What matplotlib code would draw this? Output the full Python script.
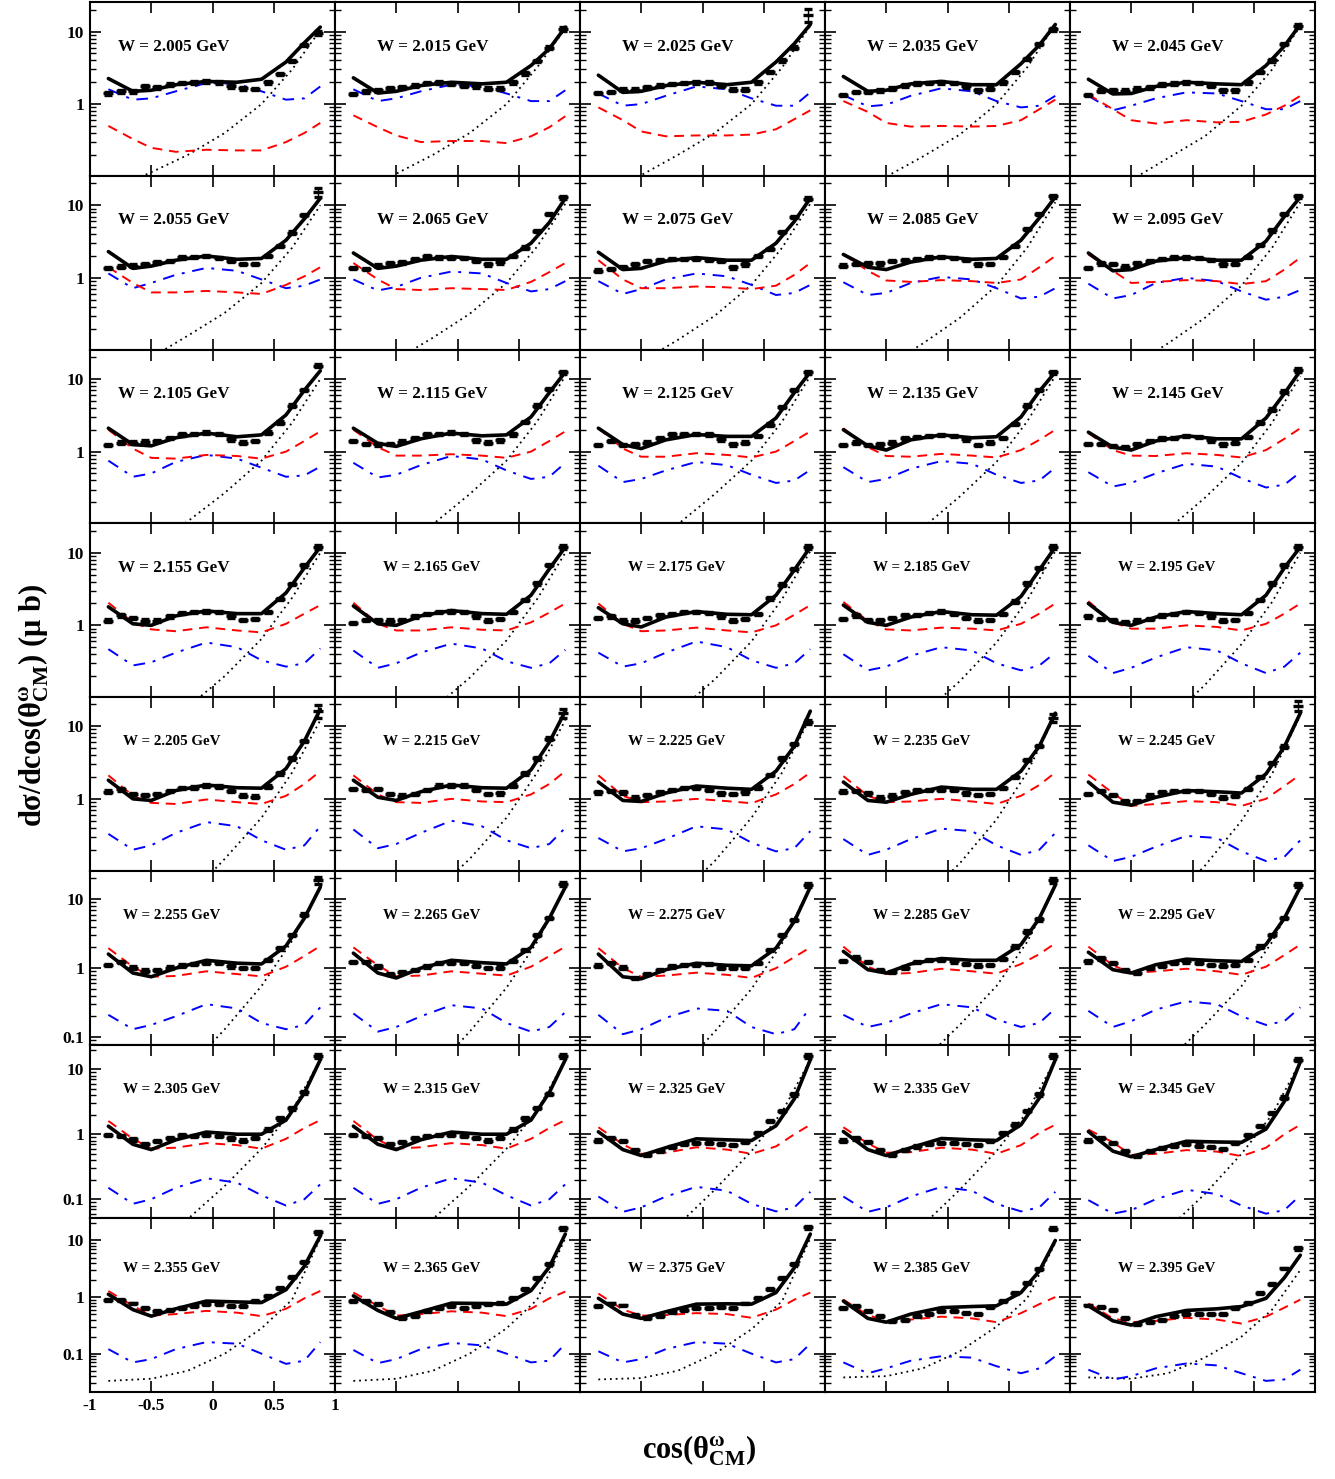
import matplotlib
matplotlib.use("Agg")
import matplotlib.pyplot as plt
from matplotlib.ticker import FixedLocator, FuncFormatter, NullFormatter, LogLocator

plt.rcParams['font.family'] = ['Liberation Serif', 'DejaVu Serif']
plt.rcParams['font.weight'] = 'bold'

# ---------------- data ----------------
W_LABELS = ["2.005", "2.015", "2.025", "2.035", "2.045",
            "2.055", "2.065", "2.075", "2.085", "2.095",
            "2.105", "2.115", "2.125", "2.135", "2.145",
            "2.155", "2.165", "2.175", "2.185", "2.195",
            "2.205", "2.215", "2.225", "2.235", "2.245",
            "2.255", "2.265", "2.275", "2.285", "2.295",
            "2.305", "2.315", "2.325", "2.335", "2.345",
            "2.355", "2.365", "2.375", "2.385", "2.395"]

CURVE_X = [-0.85, -0.65, -0.5, -0.3, -0.05, 0.2, 0.4, 0.6, 0.75, 0.88]
DOT_X = [-0.85, -0.5, -0.2, 0.1, 0.4, 0.65, 0.88]
DATA_X = [-0.85, -0.75, -0.65, -0.55, -0.45, -0.35, -0.25, -0.15, -0.05,
          0.05, 0.15, 0.25, 0.35, 0.45, 0.55, 0.65, 0.75, 0.86]

# full model (solid black)
SOLID = [
    [2.25, 1.5, 1.55, 1.85, 2.05, 2.0, 2.2, 3.8, 7.0, 11.5],
    [2.3, 1.42, 1.5, 1.8, 2.0, 1.9, 2.0, 3.4, 5.8, 11.5],
    [2.5, 1.45, 1.5, 1.8, 2.0, 1.85, 2.0, 3.8, 6.8, 12.5],
    [2.4, 1.5, 1.55, 1.9, 2.05, 1.85, 1.85, 3.6, 6.5, 12.5],
    [2.2, 1.38, 1.4, 1.75, 2.0, 1.9, 1.85, 3.4, 6.3, 12.5],
    [2.3, 1.35, 1.45, 1.75, 2.0, 1.8, 1.85, 3.3, 6.5, 12.5],
    [2.2, 1.35, 1.45, 1.75, 1.97, 1.8, 1.8, 3.0, 5.8, 12.5],
    [2.25, 1.3, 1.35, 1.7, 1.9, 1.75, 1.75, 3.0, 6.0, 12.5],
    [2.1, 1.4, 1.3, 1.65, 1.95, 1.8, 1.85, 3.3, 6.7, 13.0],
    [2.2, 1.25, 1.3, 1.7, 1.9, 1.75, 1.75, 3.2, 7.0, 13.0],
    [2.1, 1.25, 1.2, 1.55, 1.8, 1.6, 1.7, 3.2, 7.0, 13.0],
    [2.1, 1.3, 1.18, 1.5, 1.8, 1.65, 1.7, 3.0, 6.5, 12.5],
    [2.1, 1.25, 1.1, 1.45, 1.72, 1.62, 1.62, 2.9, 6.5, 12.5],
    [2.0, 1.2, 1.05, 1.45, 1.7, 1.55, 1.6, 3.0, 6.8, 12.5],
    [1.85, 1.15, 1.05, 1.4, 1.65, 1.5, 1.5, 2.9, 6.3, 13.0],
    [1.8, 1.05, 1.0, 1.35, 1.58, 1.45, 1.45, 2.8, 6.2, 12.0],
    [1.85, 1.05, 1.0, 1.35, 1.6, 1.45, 1.42, 2.6, 6.0, 12.0],
    [1.75, 1.05, 0.95, 1.3, 1.55, 1.42, 1.4, 2.6, 5.8, 12.0],
    [1.9, 1.1, 1.0, 1.3, 1.55, 1.4, 1.38, 2.5, 5.8, 12.0],
    [2.0, 1.1, 1.0, 1.3, 1.55, 1.45, 1.4, 2.6, 6.2, 12.0],
    [1.8, 1.0, 0.95, 1.3, 1.55, 1.42, 1.4, 2.6, 6.2, 17.0],
    [1.8, 1.05, 0.95, 1.25, 1.55, 1.42, 1.4, 2.5, 6.0, 16.0],
    [1.7, 0.95, 0.92, 1.2, 1.5, 1.4, 1.35, 2.4, 5.3, 16.0],
    [1.7, 0.95, 0.9, 1.15, 1.45, 1.35, 1.35, 2.4, 5.3, 15.0],
    [1.7, 0.9, 0.82, 1.05, 1.3, 1.25, 1.2, 2.2, 5.2, 15.0],
    [1.6, 0.85, 0.75, 1.0, 1.3, 1.18, 1.15, 2.1, 5.3, 15.0],
    [1.65, 0.85, 0.72, 1.0, 1.3, 1.2, 1.15, 2.0, 5.3, 15.0],
    [1.6, 0.75, 0.7, 0.95, 1.18, 1.1, 1.08, 1.95, 4.8, 15.0],
    [1.75, 0.95, 0.85, 1.15, 1.38, 1.3, 1.3, 2.2, 5.3, 16.0],
    [1.7, 0.95, 0.85, 1.12, 1.35, 1.28, 1.25, 2.2, 5.3, 15.0],
    [1.33, 0.7, 0.58, 0.82, 1.08, 1.0, 1.0, 1.65, 4.3, 14.0],
    [1.33, 0.7, 0.58, 0.82, 1.08, 1.0, 1.0, 1.65, 4.4, 14.0],
    [1.09, 0.58, 0.47, 0.62, 0.85, 0.82, 0.8, 1.35, 3.5, 14.0],
    [1.1, 0.58, 0.47, 0.62, 0.86, 0.82, 0.8, 1.4, 3.6, 14.0],
    [1.1, 0.55, 0.45, 0.58, 0.78, 0.76, 0.75, 1.2, 3.2, 13.0],
    [1.12, 0.6, 0.46, 0.62, 0.85, 0.82, 0.8, 1.35, 3.5, 12.0],
    [1.05, 0.58, 0.42, 0.55, 0.78, 0.77, 0.75, 1.3, 3.4, 13.0],
    [0.95, 0.5, 0.42, 0.55, 0.75, 0.76, 0.75, 1.2, 3.3, 13.0],
    [0.85, 0.42, 0.36, 0.5, 0.65, 0.68, 0.7, 1.2, 2.9, 10.0],
    [0.7, 0.38, 0.32, 0.45, 0.58, 0.62, 0.68, 0.95, 2.2, 5.5],
]

# red dashed contribution
RED = [
    [0.5, 0.33, 0.25, 0.22, 0.235, 0.23, 0.23, 0.3, 0.4, 0.55],
    [0.7, 0.48, 0.37, 0.3, 0.31, 0.31, 0.29, 0.36, 0.48, 0.68],
    [0.9, 0.6, 0.42, 0.36, 0.37, 0.37, 0.38, 0.45, 0.62, 0.82],
    [1.1, 0.78, 0.55, 0.49, 0.5, 0.49, 0.5, 0.6, 0.85, 1.15],
    [1.35, 0.85, 0.6, 0.54, 0.6, 0.56, 0.57, 0.72, 0.95, 1.3],
    [1.4, 0.85, 0.63, 0.63, 0.66, 0.63, 0.6, 0.8, 1.05, 1.4],
    [1.6, 0.95, 0.7, 0.68, 0.72, 0.7, 0.68, 0.88, 1.2, 1.6],
    [1.75, 0.95, 0.72, 0.72, 0.76, 0.74, 0.7, 0.78, 1.1, 1.6],
    [2.1, 1.25, 0.92, 0.88, 0.93, 0.9, 0.85, 0.95, 1.4, 2.0],
    [2.1, 1.25, 0.85, 0.88, 0.93, 0.9, 0.82, 0.9, 1.3, 1.9],
    [2.0, 1.1, 0.82, 0.8, 0.9, 0.87, 0.8, 1.0, 1.4, 1.9],
    [2.0, 1.15, 0.88, 0.88, 0.92, 0.88, 0.82, 1.0, 1.4, 1.9],
    [2.1, 1.1, 0.85, 0.85, 0.95, 0.9, 0.83, 1.0, 1.4, 1.9],
    [2.1, 1.15, 0.87, 0.85, 0.93, 0.88, 0.83, 1.05, 1.45, 2.0],
    [1.8, 1.05, 0.88, 0.87, 0.95, 0.9, 0.83, 1.05, 1.5, 2.1],
    [2.05, 1.1, 0.88, 0.83, 0.94, 0.85, 0.8, 1.05, 1.45, 1.9],
    [2.05, 1.05, 0.85, 0.85, 0.94, 0.87, 0.85, 1.1, 1.5, 2.0],
    [2.0, 1.05, 0.83, 0.85, 0.93, 0.85, 0.8, 1.0, 1.4, 1.9],
    [2.1, 1.15, 0.88, 0.85, 0.93, 0.9, 0.85, 1.05, 1.45, 2.0],
    [2.15, 1.1, 0.9, 0.9, 1.0, 0.95, 0.85, 1.05, 1.45, 2.0],
    [2.1, 1.1, 0.88, 0.85, 0.98, 0.9, 0.85, 1.1, 1.6, 2.4],
    [2.1, 1.15, 0.9, 0.88, 1.0, 0.92, 0.9, 1.15, 1.6, 2.4],
    [2.1, 1.1, 0.9, 0.92, 1.0, 0.93, 0.87, 1.15, 1.6, 2.3],
    [2.05, 1.1, 0.9, 0.92, 1.0, 0.92, 0.85, 1.1, 1.55, 2.3],
    [2.15, 1.2, 0.8, 0.85, 0.93, 0.9, 0.8, 1.0, 1.5, 2.15],
    [1.95, 1.05, 0.75, 0.77, 0.9, 0.82, 0.76, 1.05, 1.5, 2.1],
    [2.0, 1.1, 0.76, 0.78, 0.9, 0.83, 0.78, 1.05, 1.5, 2.05],
    [1.95, 1.0, 0.75, 0.78, 0.86, 0.8, 0.72, 1.0, 1.45, 2.0],
    [2.05, 1.05, 0.82, 0.85, 0.98, 0.9, 0.83, 1.15, 1.6, 2.3],
    [2.05, 1.1, 0.85, 0.9, 0.98, 0.9, 0.8, 1.05, 1.55, 2.2],
    [1.6, 0.85, 0.6, 0.62, 0.73, 0.68, 0.6, 0.85, 1.25, 1.65],
    [1.6, 0.82, 0.6, 0.63, 0.73, 0.68, 0.6, 0.85, 1.25, 1.65],
    [1.28, 0.7, 0.5, 0.52, 0.63, 0.58, 0.5, 0.65, 1.0, 1.4],
    [1.28, 0.72, 0.52, 0.53, 0.62, 0.58, 0.5, 0.68, 1.05, 1.4],
    [1.18, 0.75, 0.48, 0.5, 0.57, 0.54, 0.46, 0.62, 1.0, 1.4],
    [1.28, 0.7, 0.47, 0.5, 0.57, 0.53, 0.46, 0.62, 0.95, 1.28],
    [1.2, 0.7, 0.47, 0.5, 0.56, 0.53, 0.46, 0.62, 0.95, 1.25],
    [1.15, 0.6, 0.47, 0.48, 0.52, 0.5, 0.43, 0.6, 0.9, 1.2],
    [0.9, 0.48, 0.38, 0.4, 0.45, 0.42, 0.36, 0.52, 0.75, 1.0],
    [0.77, 0.42, 0.36, 0.38, 0.43, 0.4, 0.34, 0.45, 0.65, 0.9],
]

# blue dash-dotted contribution
BLUE = [
    [1.6, 1.15, 1.2, 1.5, 1.95, 1.9, 1.5, 1.15, 1.2, 1.75],
    [1.6, 1.1, 1.2, 1.5, 1.85, 1.75, 1.4, 1.1, 1.1, 1.55],
    [1.4, 0.95, 1.0, 1.3, 1.75, 1.6, 1.2, 0.95, 0.95, 1.45],
    [1.33, 0.93, 0.98, 1.3, 1.65, 1.5, 1.1, 0.9, 0.95, 1.3],
    [1.3, 0.82, 0.95, 1.2, 1.45, 1.4, 1.1, 0.85, 0.85, 1.1],
    [1.15, 0.72, 0.85, 1.1, 1.37, 1.25, 0.95, 0.72, 0.78, 0.95],
    [0.95, 0.67, 0.75, 1.0, 1.22, 1.15, 0.85, 0.65, 0.7, 0.9],
    [0.9, 0.6, 0.7, 0.95, 1.15, 1.05, 0.8, 0.58, 0.62, 0.8],
    [0.87, 0.58, 0.62, 0.85, 1.03, 0.95, 0.72, 0.52, 0.55, 0.72],
    [0.83, 0.52, 0.58, 0.85, 1.0, 0.9, 0.65, 0.5, 0.55, 0.68],
    [0.75, 0.45, 0.5, 0.72, 0.9, 0.8, 0.6, 0.45, 0.47, 0.62],
    [0.7, 0.44, 0.48, 0.65, 0.87, 0.78, 0.55, 0.42, 0.45, 0.7],
    [0.64, 0.38, 0.42, 0.55, 0.72, 0.65, 0.48, 0.37, 0.4, 0.56],
    [0.61, 0.38, 0.42, 0.58, 0.74, 0.68, 0.48, 0.37, 0.4, 0.6],
    [0.52, 0.33, 0.37, 0.5, 0.68, 0.62, 0.43, 0.32, 0.35, 0.52],
    [0.47, 0.28, 0.31, 0.42, 0.58, 0.5, 0.33, 0.27, 0.3, 0.48],
    [0.45, 0.26, 0.3, 0.42, 0.56, 0.48, 0.32, 0.26, 0.3, 0.46],
    [0.42, 0.27, 0.3, 0.42, 0.6, 0.5, 0.33, 0.26, 0.3, 0.47],
    [0.4, 0.24, 0.27, 0.38, 0.5, 0.45, 0.3, 0.24, 0.28, 0.42],
    [0.38, 0.22, 0.26, 0.36, 0.5, 0.45, 0.3, 0.22, 0.27, 0.42],
    [0.33, 0.2, 0.23, 0.34, 0.48, 0.42, 0.27, 0.2, 0.23, 0.42],
    [0.38, 0.21, 0.24, 0.34, 0.5, 0.42, 0.27, 0.21, 0.24, 0.4],
    [0.29, 0.19, 0.21, 0.28, 0.42, 0.38, 0.25, 0.19, 0.21, 0.36],
    [0.28, 0.17, 0.2, 0.28, 0.39, 0.36, 0.23, 0.17, 0.2, 0.34],
    [0.23, 0.14, 0.16, 0.22, 0.31, 0.29, 0.19, 0.14, 0.16, 0.27],
    [0.21, 0.13, 0.15, 0.2, 0.3, 0.26, 0.16, 0.13, 0.15, 0.27],
    [0.22, 0.12, 0.14, 0.2, 0.29, 0.26, 0.16, 0.12, 0.14, 0.23],
    [0.21, 0.11, 0.13, 0.19, 0.26, 0.24, 0.14, 0.11, 0.13, 0.27],
    [0.21, 0.14, 0.16, 0.22, 0.3, 0.27, 0.18, 0.14, 0.16, 0.26],
    [0.24, 0.14, 0.17, 0.25, 0.33, 0.3, 0.2, 0.15, 0.17, 0.27],
    [0.15, 0.085, 0.1, 0.15, 0.21, 0.18, 0.115, 0.08, 0.1, 0.17],
    [0.15, 0.085, 0.1, 0.15, 0.21, 0.18, 0.115, 0.08, 0.1, 0.17],
    [0.11, 0.064, 0.075, 0.11, 0.155, 0.135, 0.085, 0.065, 0.075, 0.13],
    [0.11, 0.064, 0.075, 0.11, 0.155, 0.135, 0.085, 0.065, 0.075, 0.13],
    [0.097, 0.06, 0.068, 0.1, 0.14, 0.12, 0.08, 0.06, 0.068, 0.115],
    [0.12, 0.07, 0.08, 0.12, 0.16, 0.15, 0.1, 0.066, 0.075, 0.16],
    [0.116, 0.068, 0.08, 0.12, 0.155, 0.14, 0.1, 0.07, 0.075, 0.15],
    [0.11, 0.07, 0.08, 0.12, 0.16, 0.15, 0.1, 0.07, 0.08, 0.15],
    [0.07, 0.045, 0.055, 0.075, 0.09, 0.085, 0.06, 0.045, 0.055, 0.09],
    [0.052, 0.035, 0.04, 0.055, 0.067, 0.062, 0.045, 0.033, 0.035, 0.052],
]

# black dotted contribution
DOTTED = [
    [0.065, 0.115, 0.2, 0.4, 1.0, 3.0, 10.5],
    [0.045, 0.11, 0.2, 0.4, 1.0, 3.2, 11.0],
    [0.045, 0.105, 0.2, 0.4, 1.0, 3.2, 12.0],
    [0.04, 0.1, 0.19, 0.38, 1.0, 3.2, 12.5],
    [0.035, 0.09, 0.18, 0.36, 0.95, 3.0, 12.0],
    [0.03, 0.08, 0.16, 0.33, 0.85, 2.6, 10.0],
    [0.03, 0.075, 0.15, 0.32, 0.85, 2.7, 10.5],
    [0.03, 0.07, 0.14, 0.3, 0.8, 2.6, 10.5],
    [0.025, 0.06, 0.125, 0.28, 0.78, 2.6, 11.0],
    [0.025, 0.06, 0.125, 0.28, 0.78, 2.6, 11.0],
    [0.02, 0.05, 0.11, 0.27, 0.75, 2.5, 10.0],
    [0.02, 0.045, 0.1, 0.26, 0.75, 2.6, 11.0],
    [0.02, 0.045, 0.1, 0.26, 0.75, 2.6, 11.0],
    [0.015, 0.04, 0.09, 0.24, 0.72, 2.6, 11.0],
    [0.015, 0.035, 0.085, 0.23, 0.7, 2.5, 11.0],
    [0.012, 0.03, 0.075, 0.2, 0.65, 2.4, 10.0],
    [0.012, 0.028, 0.07, 0.19, 0.62, 2.3, 10.0],
    [0.01, 0.025, 0.065, 0.18, 0.6, 2.3, 10.5],
    [0.01, 0.024, 0.06, 0.17, 0.58, 2.2, 10.5],
    [0.008, 0.02, 0.05, 0.15, 0.55, 2.1, 10.0],
    [0.007, 0.018, 0.045, 0.15, 0.55, 2.3, 12.0],
    [0.008, 0.02, 0.05, 0.15, 0.55, 2.3, 12.0],
    [0.007, 0.018, 0.045, 0.14, 0.55, 2.3, 13.0],
    [0.007, 0.017, 0.042, 0.13, 0.52, 2.3, 14.0],
    [0.006, 0.015, 0.038, 0.12, 0.5, 2.2, 14.0],
    [0.004, 0.012, 0.035, 0.13, 0.55, 2.5, 15.0],
    [0.004, 0.011, 0.032, 0.12, 0.52, 2.4, 15.0],
    [0.004, 0.011, 0.032, 0.12, 0.5, 2.3, 15.0],
    [0.005, 0.014, 0.045, 0.15, 0.55, 2.4, 15.0],
    [0.005, 0.014, 0.045, 0.15, 0.55, 2.4, 15.0],
    [0.004, 0.015, 0.05, 0.16, 0.6, 2.3, 14.0],
    [0.004, 0.015, 0.05, 0.16, 0.6, 2.3, 14.0],
    [0.004, 0.012, 0.04, 0.14, 0.55, 2.2, 14.0],
    [0.004, 0.012, 0.04, 0.14, 0.55, 2.2, 14.0],
    [0.003, 0.01, 0.035, 0.12, 0.5, 2.0, 13.0],
    [0.033, 0.036, 0.05, 0.1, 0.28, 0.9, 11.0],
    [0.033, 0.036, 0.05, 0.1, 0.28, 0.9, 11.0],
    [0.035, 0.037, 0.05, 0.1, 0.27, 0.85, 11.0],
    [0.038, 0.04, 0.055, 0.11, 0.3, 0.95, 9.0],
    [0.038, 0.036, 0.045, 0.085, 0.2, 0.6, 3.0],
]

# measured cross sections (18 angular bins)
DATA = [
    [1.4, 1.5, 1.5, 1.75, 1.7, 1.85, 1.95, 2.0, 2.05, 2.0, 1.75, 1.65, 1.62, 2.0, 2.6, 3.9, 6.5, 9.6],
    [1.37, 1.5, 1.55, 1.65, 1.7, 1.8, 1.95, 2.0, 1.9, 1.8, 1.75, 1.63, 1.63, 2.0, 2.65, 3.9, 6.0, 10.8],
    [1.42, 1.47, 1.58, 1.58, 1.7, 1.8, 1.9, 1.95, 2.0, 2.0, 1.8, 1.58, 1.58, 2.0, 2.75, 4.0, 6.0, 17.0],
    [1.33, 1.47, 1.47, 1.55, 1.64, 1.82, 1.91, 1.95, 2.0, 1.95, 1.75, 1.55, 1.64, 2.0, 2.75, 4.2, 6.7, 10.7],
    [1.33, 1.53, 1.55, 1.53, 1.64, 1.7, 1.87, 1.91, 2.0, 1.95, 1.8, 1.55, 1.55, 2.0, 2.75, 4.0, 6.7, 12.0],
    [1.37, 1.43, 1.47, 1.55, 1.64, 1.72, 1.91, 1.95, 2.0, 1.87, 1.7, 1.55, 1.55, 2.0, 2.75, 4.2, 7.3, 15.2],
    [1.37, 1.33, 1.47, 1.58, 1.64, 1.82, 2.0, 1.91, 1.87, 1.87, 1.7, 1.53, 1.64, 2.0, 2.6, 4.4, 7.6, 12.8],
    [1.26, 1.33, 1.42, 1.53, 1.7, 1.76, 1.82, 1.82, 1.82, 1.76, 1.7, 1.4, 1.53, 2.0, 2.5, 4.3, 6.9, 12.3],
    [1.47, 1.55, 1.58, 1.58, 1.7, 1.76, 1.82, 1.91, 1.95, 1.87, 1.76, 1.53, 1.55, 1.95, 2.75, 4.7, 7.6, 13.3],
    [1.37, 1.58, 1.55, 1.43, 1.58, 1.72, 1.82, 1.91, 1.91, 1.87, 1.76, 1.53, 1.55, 1.95, 2.85, 4.5, 7.6, 13.3],
    [1.23, 1.33, 1.33, 1.37, 1.4, 1.53, 1.72, 1.76, 1.82, 1.76, 1.47, 1.33, 1.4, 1.82, 2.5, 4.3, 7.1, 15.2],
    [1.4, 1.28, 1.26, 1.28, 1.37, 1.55, 1.72, 1.76, 1.82, 1.76, 1.43, 1.33, 1.43, 1.72, 2.55, 4.3, 7.3, 12.3],
    [1.23, 1.4, 1.23, 1.26, 1.33, 1.55, 1.72, 1.76, 1.76, 1.72, 1.47, 1.26, 1.33, 1.64, 2.36, 4.1, 7.1, 12.3],
    [1.23, 1.33, 1.23, 1.26, 1.33, 1.52, 1.58, 1.64, 1.7, 1.64, 1.47, 1.23, 1.33, 1.55, 2.4, 4.3, 7.1, 12.3],
    [1.28, 1.28, 1.19, 1.16, 1.26, 1.4, 1.52, 1.55, 1.64, 1.58, 1.43, 1.26, 1.33, 1.58, 2.5, 3.8, 6.7, 13.3],
    [1.16, 1.37, 1.26, 1.16, 1.16, 1.33, 1.47, 1.52, 1.55, 1.52, 1.33, 1.19, 1.23, 1.52, 2.3, 3.7, 6.7, 12.0],
    [1.07, 1.19, 1.19, 1.16, 1.19, 1.33, 1.43, 1.52, 1.55, 1.52, 1.33, 1.16, 1.23, 1.52, 2.25, 3.8, 6.8, 12.0],
    [1.26, 1.33, 1.16, 1.16, 1.26, 1.37, 1.43, 1.52, 1.52, 1.47, 1.33, 1.16, 1.23, 1.43, 2.36, 3.65, 6.0, 12.0],
    [1.23, 1.37, 1.19, 1.19, 1.26, 1.37, 1.4, 1.47, 1.55, 1.43, 1.26, 1.16, 1.19, 1.43, 2.12, 3.8, 6.2, 12.0],
    [1.33, 1.23, 1.19, 1.11, 1.16, 1.23, 1.37, 1.43, 1.52, 1.47, 1.33, 1.16, 1.19, 1.47, 2.25, 3.8, 6.7, 12.0],
    [1.26, 1.35, 1.16, 1.13, 1.16, 1.28, 1.4, 1.43, 1.52, 1.47, 1.28, 1.11, 1.07, 1.47, 2.24, 3.6, 6.2, 16.0],
    [1.37, 1.33, 1.37, 1.16, 1.11, 1.16, 1.33, 1.52, 1.52, 1.52, 1.33, 1.16, 1.19, 1.52, 2.24, 3.6, 6.7, 15.0],
    [1.23, 1.28, 1.23, 1.04, 1.13, 1.23, 1.33, 1.4, 1.4, 1.33, 1.19, 1.16, 1.23, 1.43, 2.12, 3.6, 5.7, 11.3],
    [1.26, 1.28, 1.19, 1.04, 1.11, 1.23, 1.33, 1.33, 1.33, 1.33, 1.19, 1.13, 1.16, 1.4, 2.0, 3.4, 5.3, 13.0],
    [1.16, 1.28, 1.13, 0.92, 0.94, 1.11, 1.23, 1.28, 1.28, 1.28, 1.16, 1.04, 1.11, 1.37, 2.0, 3.1, 5.2, 19.0],
    [1.12, 1.22, 1.02, 0.92, 0.95, 1.02, 1.09, 1.14, 1.18, 1.18, 1.06, 1.0, 1.0, 1.32, 1.94, 3.0, 6.0, 19.0],
    [1.22, 1.22, 1.06, 0.82, 0.88, 0.95, 1.06, 1.18, 1.18, 1.18, 1.09, 1.0, 1.02, 1.28, 1.84, 3.0, 5.3, 16.8],
    [1.09, 1.18, 1.02, 0.72, 0.82, 0.95, 1.06, 1.12, 1.12, 1.14, 1.02, 1.0, 1.02, 1.18, 1.84, 3.0, 5.0, 16.0],
    [1.28, 1.42, 1.22, 0.95, 0.88, 1.02, 1.22, 1.32, 1.32, 1.25, 1.14, 1.09, 1.12, 1.36, 2.05, 3.4, 5.1, 19.0],
    [1.25, 1.39, 1.18, 0.95, 0.85, 1.0, 1.09, 1.18, 1.25, 1.18, 1.12, 1.09, 1.12, 1.32, 2.05, 3.0, 5.3, 16.0],
    [0.97, 0.93, 0.83, 0.71, 0.78, 0.88, 0.97, 0.93, 0.99, 0.93, 0.86, 0.8, 0.88, 1.18, 1.75, 2.5, 4.4, 16.0],
    [0.97, 0.93, 0.88, 0.71, 0.76, 0.88, 0.93, 0.97, 0.99, 0.93, 0.88, 0.8, 0.88, 1.18, 1.75, 2.56, 4.2, 16.0],
    [0.8, 0.88, 0.78, 0.58, 0.48, 0.55, 0.63, 0.71, 0.73, 0.73, 0.71, 0.68, 0.76, 1.05, 1.59, 2.27, 4.1, 16.0],
    [0.8, 0.86, 0.76, 0.58, 0.48, 0.58, 0.65, 0.71, 0.73, 0.73, 0.71, 0.68, 0.78, 1.05, 1.41, 2.27, 4.1, 16.0],
    [0.8, 0.88, 0.73, 0.55, 0.46, 0.55, 0.61, 0.67, 0.71, 0.67, 0.63, 0.6, 0.73, 0.97, 1.33, 2.14, 3.66, 14.0],
    [0.88, 0.88, 0.77, 0.64, 0.56, 0.58, 0.64, 0.69, 0.74, 0.74, 0.69, 0.69, 0.85, 1.04, 1.45, 2.3, 4.2, 14.0],
    [0.85, 0.85, 0.74, 0.54, 0.43, 0.47, 0.56, 0.64, 0.69, 0.64, 0.69, 0.74, 0.79, 0.97, 1.37, 2.2, 3.8, 16.5],
    [0.69, 0.77, 0.71, 0.49, 0.43, 0.47, 0.54, 0.6, 0.64, 0.64, 0.67, 0.64, 0.77, 0.97, 1.37, 2.2, 3.8, 17.0],
    [0.64, 0.69, 0.56, 0.46, 0.37, 0.4, 0.46, 0.51, 0.56, 0.56, 0.52, 0.51, 0.67, 0.85, 1.2, 1.8, 3.1, 16.0],
    [0.71, 0.67, 0.6, 0.43, 0.33, 0.36, 0.4, 0.47, 0.51, 0.51, 0.51, 0.51, 0.64, 0.79, 1.16, 1.68, 3.2, 7.3],
]

DATA_ERR_FRAC = 0.04
LAST_ERR_FRAC = [0.06, 0.06, 0.2, 0.05, 0.06, 0.15, 0.05, 0.05, 0.05, 0.05,
                 0.05, 0.05, 0.05, 0.05, 0.05, 0.05, 0.05, 0.05, 0.05, 0.05,
                 0.2, 0.15, 0.06, 0.12, 0.15, 0.12, 0.06, 0.06, 0.08, 0.06,
                 0.06, 0.06, 0.06, 0.06, 0.06, 0.06, 0.06, 0.06, 0.06, 0.06]

YLIMS = [(0.103, 25.5), (0.103, 25.5), (0.103, 25.5), (0.103, 25.5), (0.103, 25.0),
         (0.078, 25.9), (0.051, 24.0), (0.021, 24.7)]
Y_TICKS = [0.1, 1, 10]
Y_TICK_LABELS = ["0.1", "1", "10"]
X_TICKS = [-1, -0.5, 0, 0.5, 1]
X_TICK_LABELS = ["-1", "-0.5", "0", "0.5", "1"]

# ---------------- figure ----------------
fig, axes = plt.subplots(8, 5, figsize=(13.35, 14.79), dpi=100)
fig.subplots_adjust(left=90 / 1335, right=1315 / 1335, top=1 - 2 / 1479,
                    bottom=1 - 1392 / 1479, wspace=0, hspace=0)

ylab_map = dict(zip(Y_TICKS, Y_TICK_LABELS))

for i in range(40):
    r, c = divmod(i, 5)
    ax = axes[r][c]
    ax.set_yscale('log')
    ax.plot(DOT_X, DOTTED[i], color='black', lw=1.3, ls=(0, (1, 2.2)))
    ax.plot(CURVE_X, BLUE[i], color='#0000ff', lw=1.4, ls=(0, (6, 4, 1.5, 4)))
    ax.plot(CURVE_X, RED[i], color='#ff0000', lw=1.4, ls=(0, (5, 3.5)))
    ax.plot(CURVE_X, SOLID[i], color='black', lw=2.6,
            solid_joinstyle='round', solid_capstyle='round')
    errs = [v * DATA_ERR_FRAC for v in DATA[i]]
    errs[-1] = DATA[i][-1] * LAST_ERR_FRAC[i]
    ax.errorbar(DATA_X, DATA[i], yerr=errs, fmt='_', color='black', ms=6.5,
                mew=2.4, elinewidth=1.0, capsize=3.0, capthick=1.2)

    ax.set_xlim(-1, 1)
    ax.set_ylim(*YLIMS[r])
    ax.yaxis.set_major_locator(FixedLocator(Y_TICKS))
    ax.yaxis.set_minor_locator(LogLocator(base=10, subs=[2, 3, 4, 5, 6, 7, 8, 9]))
    ax.yaxis.set_minor_formatter(NullFormatter())
    if c == 0:
        ax.yaxis.set_major_formatter(FuncFormatter(lambda v, p: ylab_map.get(round(v, 3), "")))
    else:
        ax.yaxis.set_major_formatter(NullFormatter())
    ax.xaxis.set_major_locator(FixedLocator(X_TICKS))
    if r == 7 and c == 0:
        ax.set_xticklabels(X_TICK_LABELS)
    else:
        ax.xaxis.set_major_formatter(NullFormatter())
    ax.tick_params(which='both', direction='in', top=True, right=True,
                   labelsize=12.5, pad=4)
    ax.tick_params(which='major', length=8, width=1.2)
    ax.tick_params(which='minor', length=4, width=1.0)
    for sp in ax.spines.values():
        sp.set_linewidth(1.5)
    for lab in ax.get_xticklabels() + ax.get_yticklabels():
        lab.set_fontweight('bold')

    large = (r < 3) or (r == 3 and c == 0)
    if large:
        tx = 0.114 if c == 0 else 0.171
        fs = 12.3
    else:
        tx = 0.135 if c == 0 else 0.196
        fs = 10.8
    ty = 0.71 if r == 7 else 0.743
    ax.text(tx, ty, "W = " + W_LABELS[i] + " GeV", transform=ax.transAxes,
            ha='left', va='center', fontsize=fs, fontweight='bold')

fig.text(0.025, 0.523, r"dσ/dcos($\mathregular{θ^{ω}_{CM}}$) (μ b)", rotation=90,
         ha='center', va='center', fontsize=22, fontweight='bold')
fig.text(0.524, 0.019, r"cos($\mathregular{θ^{ω}_{CM}}$)",
         ha='center', va='center', fontsize=22, fontweight='bold')

fig.savefig("out.png", dpi=100)
